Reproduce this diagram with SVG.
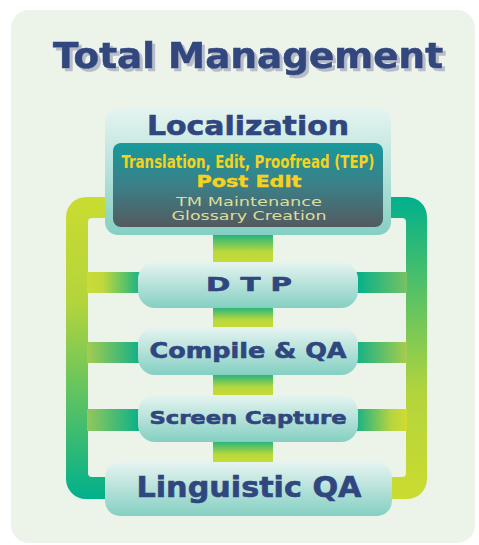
<svg xmlns="http://www.w3.org/2000/svg" width="479" height="545" viewBox="0 0 479 545">
<defs>
<filter id="shadow" x="-5%" y="-20%" width="115%" height="150%">
<feOffset in="SourceAlpha" dx="3" dy="3" result="off"/>
<feFlood flood-color="#b7bccb"/>
<feComposite in2="off" operator="in" result="sh"/>
<feMerge><feMergeNode in="sh"/><feMergeNode in="SourceGraphic"/></feMerge>
</filter>
<linearGradient id="boxG" x1="0" y1="0" x2="0" y2="1">
<stop offset="0" stop-color="#e6f4f1"/><stop offset="1" stop-color="#84cfc2"/>
</linearGradient>
<linearGradient id="innerG" x1="0" y1="0" x2="0" y2="1">
<stop offset="0" stop-color="#17999b"/><stop offset="0.5" stop-color="#3b8088"/><stop offset="1" stop-color="#535a60"/>
</linearGradient>
<linearGradient id="leftLoop" gradientUnits="userSpaceOnUse" x1="0" y1="197" x2="0" y2="499">
<stop offset="0" stop-color="#cadc30"/><stop offset="0.35" stop-color="#b4d43c"/><stop offset="1" stop-color="#00b08c"/>
</linearGradient>
<linearGradient id="rightLoop" gradientUnits="userSpaceOnUse" x1="0" y1="197" x2="0" y2="499">
<stop offset="0" stop-color="#00b08c"/><stop offset="0.65" stop-color="#b4d43c"/><stop offset="1" stop-color="#cadc30"/>
</linearGradient>
<linearGradient id="vConn" x1="0" y1="0" x2="0" y2="1">
<stop offset="0" stop-color="#14b084"/><stop offset="0.6" stop-color="#b8d83c"/><stop offset="1" stop-color="#cadc34"/>
</linearGradient>
<linearGradient id="lb1" x1="0" y1="0" x2="1" y2="0">
<stop offset="0" stop-color="#cadc38"/><stop offset="0.3" stop-color="#c0d83c"/><stop offset="1" stop-color="#18b484"/>
</linearGradient>
<linearGradient id="lb2" x1="0" y1="0" x2="1" y2="0">
<stop offset="0" stop-color="#a4cc50"/><stop offset="1" stop-color="#10b088"/>
</linearGradient>
<linearGradient id="lb3" x1="0" y1="0" x2="1" y2="0">
<stop offset="0" stop-color="#94c85a"/><stop offset="1" stop-color="#08b08a"/>
</linearGradient>
<linearGradient id="rb1" x1="0" y1="0" x2="1" y2="0">
<stop offset="0" stop-color="#00b08c"/><stop offset="1" stop-color="#78c262"/>
</linearGradient>
<linearGradient id="rb2" x1="0" y1="0" x2="1" y2="0">
<stop offset="0" stop-color="#10b088"/><stop offset="1" stop-color="#a8cc4c"/>
</linearGradient>
<linearGradient id="rb3" x1="0" y1="0" x2="1" y2="0">
<stop offset="0" stop-color="#10b088"/><stop offset="0.7" stop-color="#b8d440"/><stop offset="1" stop-color="#d0dc30"/>
</linearGradient>
</defs>
<style>
.lbl{font-family:"DejaVu Sans","Liberation Sans",sans-serif;font-weight:bold;fill:#30467e;stroke:#30467e;stroke-width:0.6;text-anchor:middle}
.box{fill:url(#boxG)}
</style>
<rect x="11" y="10" width="464" height="533" rx="18" fill="#ecf4e9"/>
<g id="title">
<text x="248" y="68" class="lbl" font-size="36" filter="url(#shadow)" textLength="390" lengthAdjust="spacingAndGlyphs">Total Management</text>
</g>
<g id="connectors">
<path d="M105,197 H86 A20,20 0 0 0 66,217 V479 A20,20 0 0 0 86,499 H110 V477 H92 A4,4 0 0 1 88,473 V222 A4,4 0 0 1 92,218 H105 Z" fill="url(#leftLoop)"/>
<path d="M388,197 H407 A20,20 0 0 1 427,217 V479 A20,20 0 0 1 407,499 H388 V477 H402 A4,4 0 0 0 406,473 V222 A4,4 0 0 0 402,218 H388 Z" fill="url(#rightLoop)"/>
<rect x="87" y="272" width="53" height="21" fill="url(#lb1)"/>
<rect x="87" y="342" width="53" height="21" fill="url(#lb2)"/>
<rect x="87" y="409" width="53" height="22" fill="url(#lb3)"/>
<rect x="355" y="272" width="52" height="21" fill="url(#rb1)"/>
<rect x="355" y="342" width="52" height="21" fill="url(#rb2)"/>
<rect x="355" y="409" width="52" height="22" fill="url(#rb3)"/>
<rect x="213" y="233" width="60" height="31" fill="url(#vConn)"/>
<rect x="213" y="306" width="60" height="23" fill="url(#vConn)"/>
<rect x="213" y="373" width="60" height="24" fill="url(#vConn)"/>
<rect x="213" y="440" width="60" height="24" fill="url(#vConn)"/>
</g>
<g id="localization">
<rect x="105" y="108" width="286" height="127" rx="13" class="box"/>
<text x="248" y="135" class="lbl" font-size="27" textLength="202" lengthAdjust="spacingAndGlyphs">Localization</text>
<rect x="113" y="143" width="270" height="84" rx="8" fill="url(#innerG)"/>
<text x="248" y="168" font-family="'DejaVu Sans Condensed','Liberation Sans',sans-serif" font-stretch="condensed" font-weight="bold" font-size="17" fill="#f6d21e" text-anchor="middle" textLength="253" lengthAdjust="spacingAndGlyphs">Translation, Edit, Proofread (TEP)</text>
<text x="249" y="187" font-family="'DejaVu Sans','Liberation Sans',sans-serif" font-weight="bold" font-size="16" fill="#f6d21e" stroke="#f6d21e" stroke-width="0.4" text-anchor="middle" textLength="105" lengthAdjust="spacingAndGlyphs">Post Edit</text>
<text x="249" y="206" font-family="'DejaVu Sans','Liberation Sans',sans-serif" font-size="13" fill="#dcde98" text-anchor="middle" textLength="146" lengthAdjust="spacingAndGlyphs">TM Maintenance</text>
<text x="249" y="220" font-family="'DejaVu Sans','Liberation Sans',sans-serif" font-size="13" fill="#dcde98" text-anchor="middle" textLength="155" lengthAdjust="spacingAndGlyphs">Glossary Creation</text>
</g>
<g id="dtp">
<rect x="138" y="262" width="220" height="46" rx="17" class="box"/>
<text x="249" y="291" class="lbl" font-size="19" textLength="86" lengthAdjust="spacingAndGlyphs">D T P</text>
</g>
<g id="compile">
<rect x="138" y="327" width="220" height="48" rx="17" class="box"/>
<text x="248" y="358" class="lbl" font-size="21" textLength="197" lengthAdjust="spacingAndGlyphs">Compile &amp; QA</text>
</g>
<g id="screen">
<rect x="138" y="395" width="220" height="47" rx="17" class="box"/>
<text x="248" y="424" class="lbl" font-size="18" textLength="197" lengthAdjust="spacingAndGlyphs">Screen Capture</text>
</g>
<g id="lqa">
<rect x="105" y="462" width="287" height="54" rx="15" class="box"/>
<text x="249" y="497" class="lbl" font-size="28" textLength="225" lengthAdjust="spacingAndGlyphs">Linguistic QA</text>
</g>
</svg>
